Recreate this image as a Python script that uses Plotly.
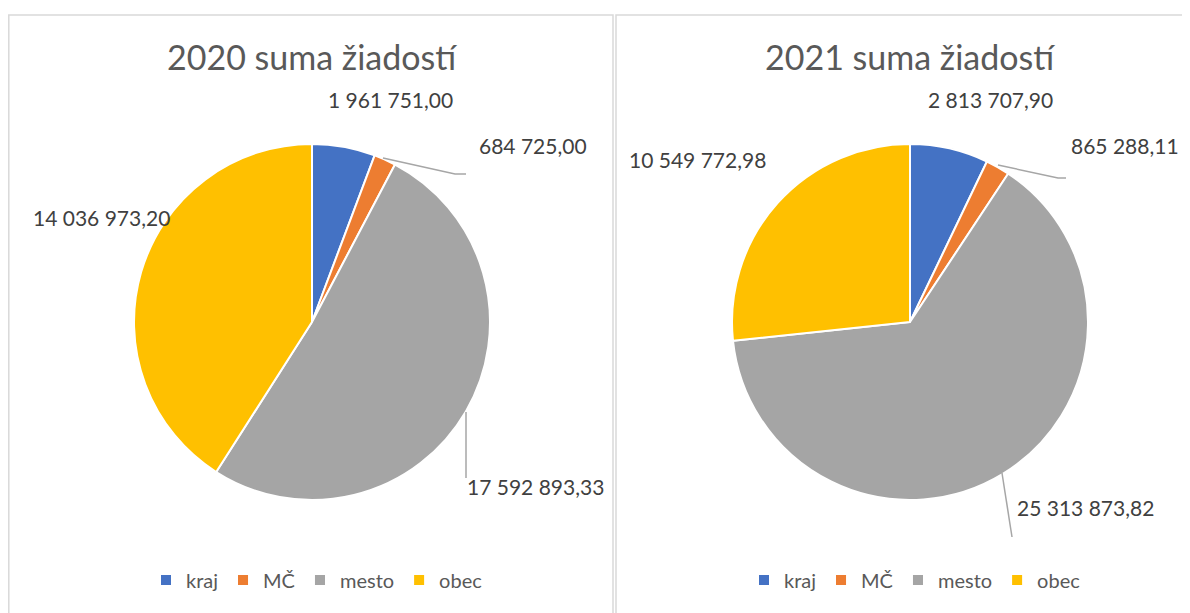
import plotly.graph_objects as go

categories = ["kraj", "MČ", "mesto", "obec"]
values_2020 = [1961751.00, 684725.00, 17592893.33, 14036973.20]
values_2021 = [2813707.90, 865288.11, 25313873.82, 10549772.98]
titles = ["2020 suma žiadostí", "2021 suma žiadostí"]
colors = ["#4472C4", "#ED7D31", "#A5A5A5", "#FFC000"]

# the page body has an 8px margin, so the figure is drawn 8px in from the corner
OFF = 8
W, H = 1190 - OFF, 613 - OFF
FONT = "Lato"


def px(x):
    return (x - OFF) / W


def py(y):
    return 1 - (y - OFF) / H


def fmt(v):
    return f"{v:,.2f}".replace(",", " ").replace(".", ",")


fig = go.Figure()

centers = [(312, 322), (910, 322)]
R = 178

# pie legend entries are merged by label across traces; a zero-width suffix keeps
# the second chart's entries separate so each chart gets its own legend
label_sets = [categories, [c + "\u200b" for c in categories]]

for i, (vals, legend) in enumerate([(values_2020, "legend"), (values_2021, "legend2")]):
    cx, cy = centers[i]
    fig.add_trace(go.Pie(
        labels=label_sets[i],
        values=vals,
        sort=False,
        direction="clockwise",
        rotation=0,
        textinfo="none",
        hoverinfo="label+value+percent",
        marker=dict(colors=colors, line=dict(color="white", width=2)),
        domain=dict(x=[px(cx - R), px(cx + R)], y=[py(cy + R), py(cy - R)]),
        legend=legend,
        showlegend=True,
    ))

label_pos = [
    [(390, 99), (533, 145), (535, 486), (101, 218)],
    [(990, 99), (1125, 145), (1085, 507), (697, 159)],
]
annotations = []
for vals, poss in zip([values_2020, values_2021], label_pos):
    for v, (x, y) in zip(vals, poss):
        annotations.append(dict(
            x=px(x), y=py(y), xref="paper", yref="paper",
            text=fmt(v), showarrow=False, xanchor="center", yanchor="middle",
            font=dict(family=FONT, size=21, color="#404040"),
        ))

for t, (cx, cy) in zip(titles, centers):
    annotations.append(dict(
        x=px(cx), y=py(56), xref="paper", yref="paper", text=t, showarrow=False,
        xanchor="center", yanchor="middle",
        font=dict(family=FONT, size=34, color="#595959"),
    ))

shapes = []
for x0, x1 in [(8.8, 613), (616, 1200)]:
    shapes.append(dict(type="rect", xref="paper", yref="paper",
                       x0=px(x0), x1=px(x1), y0=py(640), y1=py(15),
                       line=dict(color="#D9D9D9", width=1.5), fillcolor="rgba(0,0,0,0)"))

leaders = [
    [(383, 158), (455, 174), (466, 174)],
    [(466, 412), (466, 478)],
    [(998, 165), (1058, 178), (1066, 178)],
    [(1002, 473), (1012, 537)],
]
for pts in leaders:
    path = "M " + " L ".join(f"{px(x)},{py(y)}" for x, y in pts)
    shapes.append(dict(type="path", xref="paper", yref="paper", path=path,
                       line=dict(color="#A6A6A6", width=1.5)))

legend_style = dict(orientation="h", xanchor="center", yanchor="middle",
                    font=dict(family=FONT, size=20, color="#595959"),
                    bgcolor="rgba(0,0,0,0)", itemclick=False, itemdoubleclick=False)

fig.update_layout(
    width=W, height=H,
    margin=dict(l=0, r=0, t=0, b=0),
    paper_bgcolor="white",
    plot_bgcolor="white",
    font=dict(family=FONT),
    annotations=annotations,
    shapes=shapes,
    legend=dict(x=px(317), y=py(580), **legend_style),
    legend2=dict(x=px(915), y=py(580), **legend_style),
)

fig.write_html("out.html")
